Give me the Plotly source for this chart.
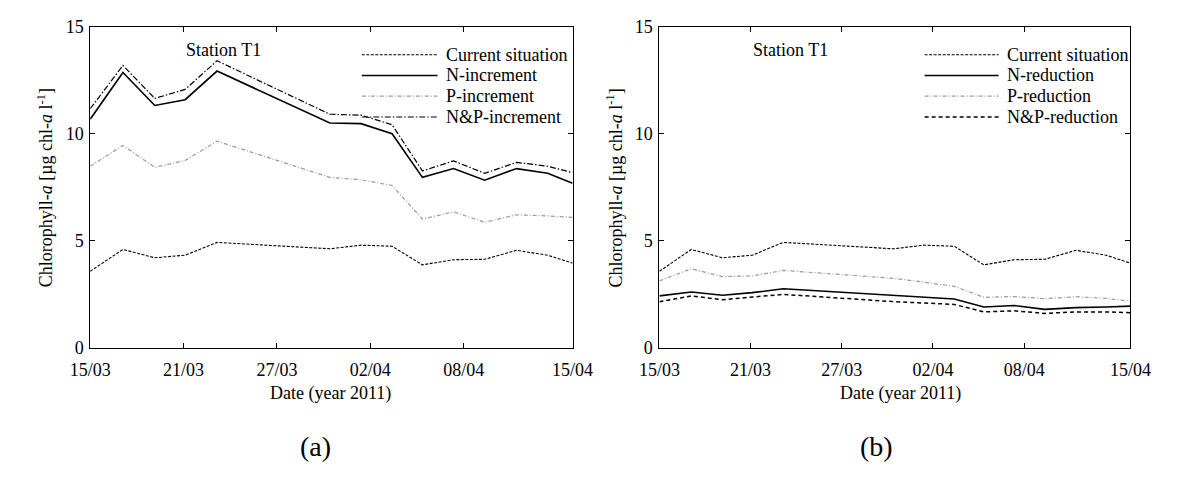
import plotly.graph_objects as go

# ---------------- data ----------------
dates = ["2011-03-15 00:00", "2011-03-17 02:24", "2011-03-19 03:36", "2011-03-21 02:24",
         "2011-03-23 03:36", "2011-03-30 09:36", "2011-04-01 09:36", "2011-04-03 09:36",
         "2011-04-05 08:24", "2011-04-07 08:24", "2011-04-09 08:24", "2011-04-11 09:36",
         "2011-04-13 09:36", "2011-04-15 00:00"]

current = [3.57, 4.59, 4.20, 4.32, 4.92, 4.62, 4.79, 4.74, 3.87, 4.11, 4.13, 4.55, 4.32, 3.95]

# panel (a) increments
n_inc = [10.68, 12.86, 11.32, 11.59, 12.93, 10.50, 10.47, 10.00, 7.96, 8.37, 7.83, 8.37, 8.15, 7.69]
p_inc = [8.48, 9.45, 8.43, 8.75, 9.65, 7.96, 7.85, 7.58, 6.01, 6.35, 5.86, 6.21, 6.16, 6.09]
np_inc = [11.17, 13.19, 11.65, 12.07, 13.41, 10.91, 10.87, 10.42, 8.26, 8.73, 8.15, 8.66, 8.48, 8.18]

# panel (b) reductions
n_red = [2.42, 2.60, 2.45, 2.57, 2.75, 2.42, 2.35, 2.27, 1.90, 1.97, 1.79, 1.87, 1.90, 1.94]
p_red = [3.12, 3.69, 3.32, 3.35, 3.61, 3.24, 3.06, 2.87, 2.35, 2.39, 2.29, 2.38, 2.30, 2.17]
np_red = [2.15, 2.42, 2.24, 2.35, 2.49, 2.15, 2.09, 2.02, 1.67, 1.72, 1.60, 1.67, 1.67, 1.63]

xtick_vals = ["2011-03-15", "2011-03-21", "2011-03-27", "2011-04-02", "2011-04-08", "2011-04-15"]
xtick_text = ["15/03", "21/03", "27/03", "02/04", "08/04", "15/04"]
ytick_vals = [0, 5, 10, 15]

names_a = ["Current situation", "N-increment", "P-increment", "N&P-increment"]
names_b = ["Current situation", "N-reduction", "P-reduction", "N&P-reduction"]

# ---------------- styles ----------------
FONT = "Liberation Serif"
TXT = 18
sty_current = dict(color="black", width=1.1, dash="3px,1.5px")
sty_n = dict(color="black", width=1.6)
sty_p = dict(color="#9a9a9a", width=1.2, dash="4px,2px,1px,2px")
sty_np_inc = dict(color="black", width=1.2, dash="6px,2px,1.5px,2px")
sty_np_red = dict(color="black", width=1.5, dash="4px,3px")

fig = go.Figure()

series_a = [(current, sty_current), (n_inc, sty_n), (p_inc, sty_p), (np_inc, sty_np_inc)]
series_b = [(current, sty_current), (n_red, sty_n), (p_red, sty_p), (np_red, sty_np_red)]

for (vals, st), nm in zip(series_a, names_a):
    fig.add_trace(go.Scatter(x=dates, y=vals, mode="lines", line=st, name=nm,
                             xaxis="x", yaxis="y", showlegend=False))
for (vals, st), nm in zip(series_b, names_b):
    fig.add_trace(go.Scatter(x=dates, y=vals, mode="lines", line=st, name=nm,
                             xaxis="x2", yaxis="y2", showlegend=False))

ydom = [0.2612, 0.9633]
axis_common = dict(showline=True, linecolor="black", linewidth=1, mirror="ticks",
                   ticks="inside", ticklen=5, tickcolor="black", showgrid=False,
                   zeroline=False, tickfont=dict(family=FONT, size=18, color="black"))

xcommon = dict(type="date", range=["2011-03-15", "2011-04-15"], tickmode="array",
               tickvals=xtick_vals, ticktext=xtick_text, ticklabelstandoff=6, **axis_common)
ycommon = dict(range=[0, 15], tickmode="array", tickvals=ytick_vals, ticklabelstandoff=2,
               **axis_common)

fig.update_layout(
    width=1194, height=477,
    margin=dict(l=0, r=0, t=0, b=0),
    paper_bgcolor="white", plot_bgcolor="white",
    showlegend=False,
    xaxis=dict(domain=[0.0601, 0.4788], anchor="y", **xcommon),
    yaxis=dict(domain=ydom, anchor="x", **ycommon),
    xaxis2=dict(domain=[0.5542, 0.9631], anchor="y2", **xcommon),
    yaxis2=dict(domain=ydom, anchor="x2", **ycommon),
)

shapes = []
annotations = []
leg_y = [0.9128, 0.8483, 0.7836, 0.7188]
panels = [("x", "y", names_a, [sty_current, sty_n, sty_p, sty_np_inc]),
          ("x2", "y2", names_b, [sty_current, sty_n, sty_p, sty_np_red])]
for xr, yr, names, styles in panels:
    for yy, nm, st in zip(leg_y, names, styles):
        shapes.append(dict(type="line", xref=f"{xr} domain", yref=f"{yr} domain",
                           x0=0.563, x1=0.72, y0=yy, y1=yy, line=st))
        annotations.append(dict(xref=f"{xr} domain", yref=f"{yr} domain", x=0.733, y=yy,
                                text=nm, showarrow=False, xanchor="left", yanchor="middle",
                                font=dict(family=FONT, size=TXT, color="black")))
    annotations.append(dict(xref=f"{xr} domain", yref=f"{yr} domain", x=0.194, y=0.927,
                            text="Station T1", showarrow=False, xanchor="left",
                            yanchor="middle", font=dict(family=FONT, size=TXT, color="black")))

ytitle = "Chlorophyll-<i>a</i> [µg chl-<i>a</i> l<sup>-1</sup>]"
for xpix in [25, 615]:
    annotations.append(dict(xref="paper", yref="paper", x=xpix / 1194, y=(477 - 186) / 477,
                            text=ytitle, textangle=-90, showarrow=False, xanchor="center",
                            yanchor="middle", font=dict(family=FONT, size=TXT, color="black")))
for xpix in [321, 912]:
    annotations.append(dict(xref="paper", yref="paper", x=xpix / 1194, y=(477 - 400) / 477,
                            text="Date (year 2011)", showarrow=False, xanchor="center",
                            yanchor="middle", font=dict(family=FONT, size=TXT, color="black")))
for xpix, lab in [(305, "(a)"), (887, "(b)")]:
    annotations.append(dict(xref="paper", yref="paper", x=xpix / 1194, y=(477 - 456) / 477,
                            text=lab, showarrow=False, xanchor="center",
                            yanchor="middle", font=dict(family=FONT, size=28, color="black")))

fig.update_layout(shapes=shapes, annotations=annotations)
fig.write_html("out.html")
